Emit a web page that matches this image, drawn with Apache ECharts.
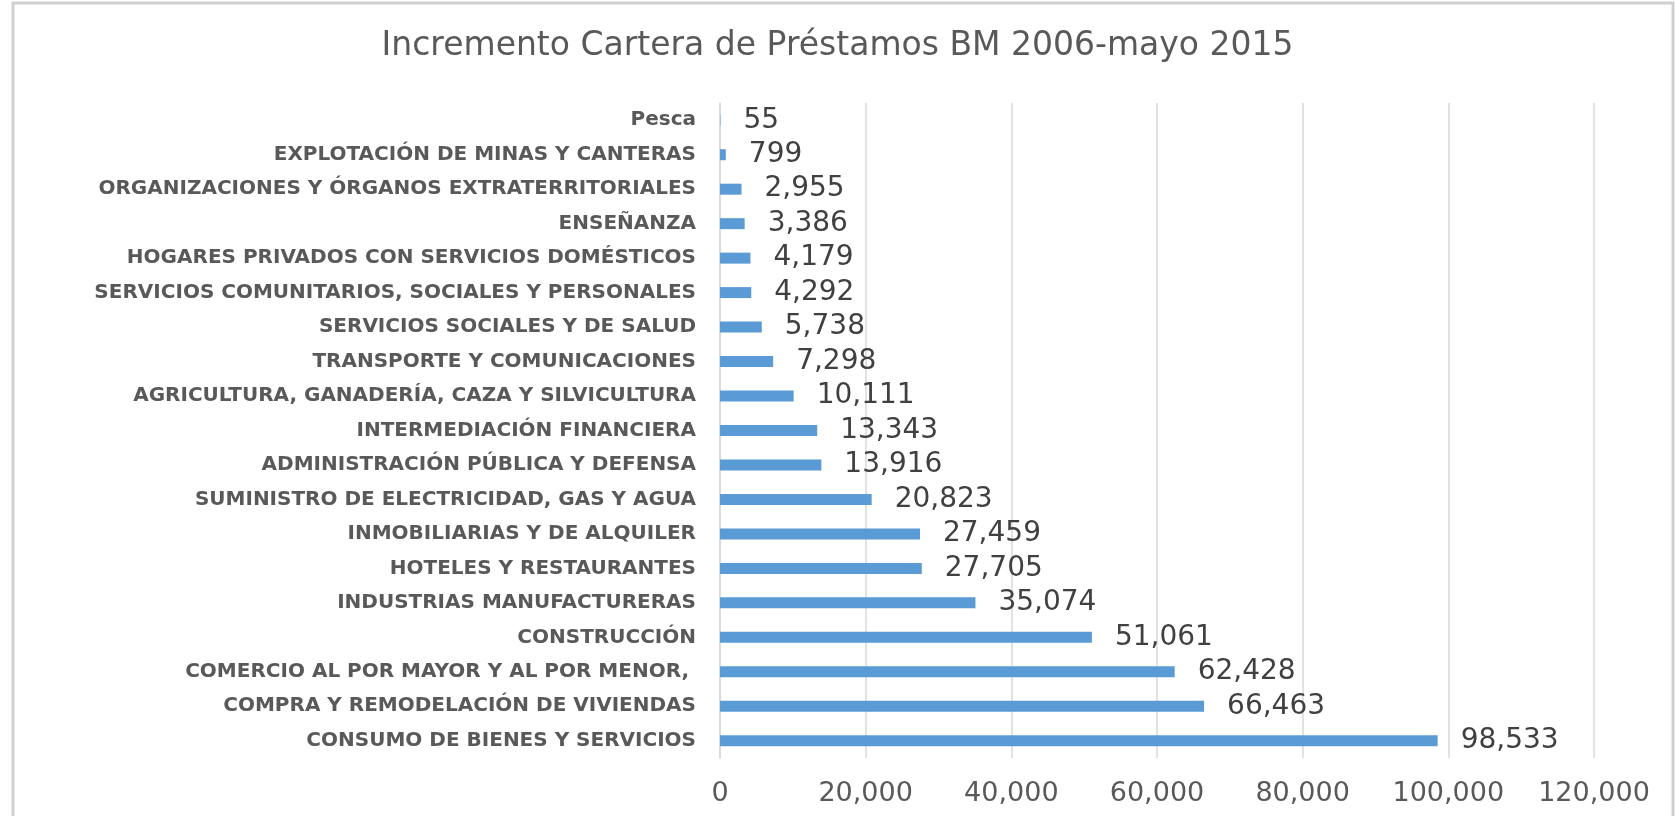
<!DOCTYPE html>
<html>
<head>
<meta charset="utf-8">
<script src="https://cdn.jsdelivr.net/npm/echarts@6/dist/echarts.min.js"></script>
<style>
  html, body { margin: 0; padding: 0; background: #fff; }
  #chart { width: 1675px; height: 816px; }
</style>
</head>
<body>
<div id="chart"></div>
<script>
// categories listed top to bottom as in the picture
const categories = [
  'Pesca',
  'EXPLOTACIÓN DE MINAS Y CANTERAS',
  'ORGANIZACIONES Y ÓRGANOS EXTRATERRITORIALES',
  'ENSEÑANZA',
  'HOGARES PRIVADOS CON SERVICIOS DOMÉSTICOS',
  'SERVICIOS COMUNITARIOS, SOCIALES Y PERSONALES',
  'SERVICIOS SOCIALES Y DE SALUD',
  'TRANSPORTE Y COMUNICACIONES',
  'AGRICULTURA, GANADERÍA, CAZA Y SILVICULTURA',
  'INTERMEDIACIÓN FINANCIERA',
  'ADMINISTRACIÓN PÚBLICA Y DEFENSA',
  'SUMINISTRO DE ELECTRICIDAD, GAS Y AGUA',
  'INMOBILIARIAS Y DE ALQUILER',
  'HOTELES Y RESTAURANTES',
  'INDUSTRIAS MANUFACTURERAS',
  'CONSTRUCCIÓN',
  'COMERCIO AL POR MAYOR Y AL POR MENOR, ',
  'COMPRA Y REMODELACIÓN DE VIVIENDAS',
  'CONSUMO DE BIENES Y SERVICIOS'
];
const values = [55, 799, 2955, 3386, 4179, 4292, 5738, 7298, 10111, 13343,
  13916, 20823, 27459, 27705, 35074, 51061, 62428, 66463, 98533];

const title = 'Incremento Cartera de Préstamos BM 2006-mayo 2015';
const axisMax = 120000;
const axisStep = 20000;

const fmt = (v) => Number(v).toLocaleString('en-US');

const chart = echarts.init(document.getElementById('chart'));
chart.setOption({
  animation: false,
  title: {
    text: title,
    left: 'center',
    top: 25,
    textStyle: {
      fontFamily: 'DejaVu Sans',
      fontSize: 33,
      fontWeight: 'normal',
      color: '#595959'
    }
  },
  graphic: [{
    type: 'rect',
    shape: { x: 13, y: 3, width: 1660, height: 830 },
    style: { fill: 'none', stroke: '#d0d0d0', lineWidth: 3 },
    silent: true
  }],
  grid: {
    left: 720,
    right: 81,
    top: 103,
    bottom: 58,
    containLabel: false
  },
  xAxis: {
    type: 'value',
    min: 0,
    max: axisMax,
    interval: axisStep,
    axisLine: { show: false },
    axisTick: { show: false },
    axisLabel: {
      margin: 22,
      fontFamily: 'DejaVu Sans',
      fontSize: 27,
      color: '#595959',
      formatter: fmt
    },
    splitLine: { lineStyle: { color: '#d9d9d9', width: 1.5 } }
  },
  yAxis: {
    type: 'category',
    inverse: true,
    data: categories,
    axisLine: { show: true, lineStyle: { color: '#d9d9d9', width: 1.5 } },
    axisTick: { show: false },
    axisLabel: {
      margin: 24,
      fontFamily: 'DejaVu Sans',
      fontWeight: 'bold',
      fontSize: 20,
      color: '#595959'
    }
  },
  series: [{
    type: 'bar',
    data: values,
    barWidth: 11,
    itemStyle: { color: '#5b9bd5' },
    label: {
      show: true,
      position: 'right',
      distance: 23,
      fontFamily: 'DejaVu Sans',
      fontSize: 28,
      color: '#404040',
      formatter: (p) => fmt(p.value)
    }
  }]
});
</script>
</body>
</html>
